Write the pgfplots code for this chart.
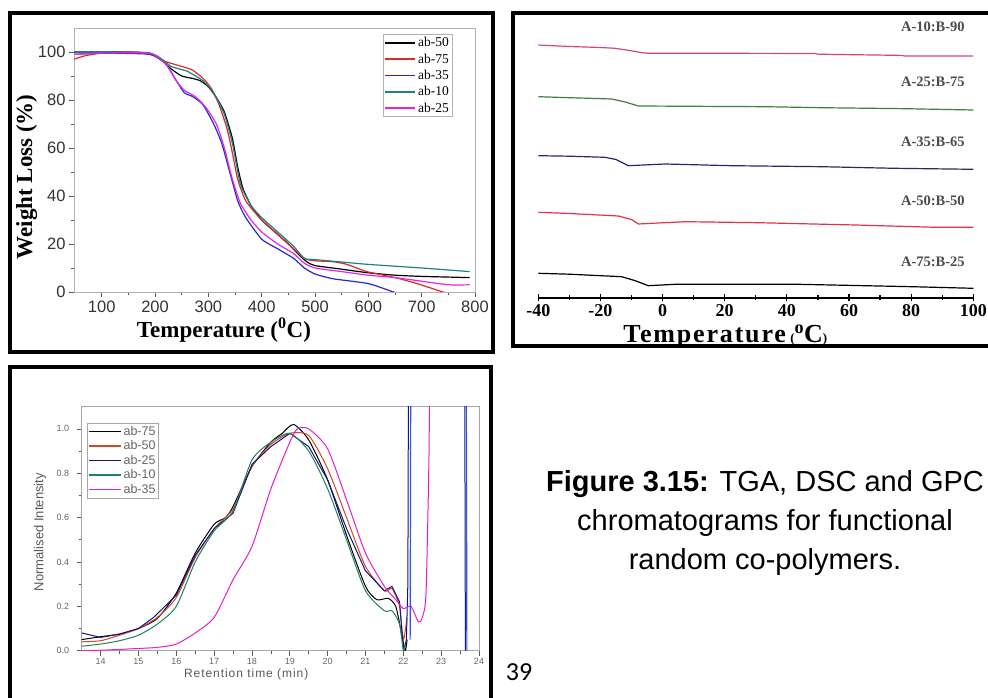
\documentclass[border=0pt]{standalone}
\usepackage{pgfplots}
\pgfplotsset{compat=1.18}
\usepackage{fontspec}
\setmainfont{Liberation Serif}
\setsansfont{Liberation Sans}
\newfontfamily\calibri{Carlito}
\definecolor{tgaR}{RGB}{225,40,40}
\definecolor{tgaB}{RGB}{40,40,210}
\definecolor{tgaT}{RGB}{30,130,130}
\definecolor{tgaM}{RGB}{225,40,225}
\definecolor{dscP}{RGB}{215,70,120}
\definecolor{dscG}{RGB}{60,130,60}
\definecolor{dscN}{RGB}{40,40,110}
\definecolor{dscR}{RGB}{225,50,80}
\definecolor{gpcO}{RGB}{210,70,40}
\definecolor{gpcN}{RGB}{20,20,130}
\definecolor{gpcG}{RGB}{30,130,90}
\definecolor{gpcM}{RGB}{230,30,200}
\definecolor{gpcB}{RGB}{50,80,240}
\begin{document}
\begin{tikzpicture}[x=1pt,y=1pt]
\useasboundingbox (0,0) rectangle (988,697);
\fill[white] (0,0) rectangle (988,697);
% frames
\draw[line width=3.5pt] (10,684) rectangle (493,345);
\draw[line width=3.5pt] (513,684) rectangle (1010,351);
\draw[line width=3.5pt] (10,330) rectangle (491,-20);
% ================= TGA =================
\begin{axis}[
  at={(74pt,405pt)}, anchor=south west, scale only axis,
  width=401pt, height=264pt,
  xmin=48, xmax=800, ymin=0, ymax=110,
  xtick={100,200,...,800}, ytick={0,20,...,100},
  minor x tick num=1, minor y tick num=1,
  tick align=outside, major tick length=5pt, minor tick length=3pt,
  xtick pos=left, ytick pos=left,
  axis line style={gray!60, line width=0.8pt},
  every tick/.style={gray!70!black, line width=0.8pt},
  /pgf/number format/assume math mode=true,
  ticklabel style={font=\fontsize{16.5}{16.5}\sffamily, text=black!80},
  xlabel={\bfseries Temperature (\textsuperscript{0}C)},
  ylabel={\bfseries Weight Loss (\%)},
  xlabel style={font=\fontsize{23}{23}\selectfont, at={(axis description cs:0.374,-0.144)}, anchor=center},
  ylabel style={font=\fontsize{23}{23}\selectfont, at={(axis description cs:-0.118,0.436)}, anchor=center},
  legend style={at={(axis description cs:0.771,0.977)}, anchor=north west,
    font=\fontsize{13.5}{13.5}\selectfont, draw=gray!60, line width=0.6pt,
    inner sep=1pt, row sep=1.5pt, cells={anchor=west}},
  legend image code/.code={\draw[#1, line width=1.6pt] (0pt,0pt) -- (30pt,0pt);},
  every axis plot/.append style={line width=1.2pt, smooth, tension=0.35},
]
\addplot[black] coordinates {(48,100)(100,100)(150,100)(190,99.5)(210,97)(230,93)(250,90)(270,89)(285,88)(300,85.5)(315,81)(330,75)(345,64)(355,52)(365,43)(380,36)(400,30)(425,25)(450,20)(470,15.5)(485,12.5)(500,11)(550,9.5)(600,8)(650,7)(700,6.5)(790,6)};
\addplot[tgaR] coordinates {(48,97)(70,98.5)(100,99.5)(150,100)(190,99.5)(220,96)(250,94)(270,92.5)(290,89)(305,85)(320,78)(335,68)(345,58)(355,47)(370,38)(400,30)(450,20)(480,14)(500,13)(534,12.6)(560,11.5)(597,8.5)(650,6)(690,3.6)(740,0)(760,-1)};
\addplot[tgaB] coordinates {(48,99)(100,99.5)(190,99)(220,95)(240,88)(255,83)(270,81.5)(290,78)(310,70)(325,62)(340,50)(355,38)(370,31)(400,22)(430,18)(460,14)(480,10)(500,7.5)(534,5.5)(600,3.5)(647,0)(660,-1)};
\addplot[tgaT] coordinates {(48,100)(190,99.5)(230,94)(260,92)(290,88)(310,83)(330,74)(345,62)(360,45)(380,36)(400,31)(430,25)(460,19)(480,14)(500,13.5)(550,12.5)(600,11.5)(700,10)(790,8.5)};
\addplot[tgaM] coordinates {(48,99)(100,99.5)(190,99.5)(220,95)(240,88)(255,84)(275,81.5)(295,77)(315,70)(330,60)(345,47)(360,37)(380,30)(400,25)(430,20)(460,16)(480,12)(500,10)(550,8.5)(600,7)(650,6)(700,4.5)(750,3)(790,3)};
\legend{ab-50,ab-75,ab-35,ab-10,ab-25}
\end{axis}
% ================= DSC =================
\begin{axis}[
  at={(538.3pt,399pt)}, anchor=south west, scale only axis,
  width=435pt, height=283pt,
  xmin=-40, xmax=100, ymin=0, ymax=283,
  axis x line*=bottom, hide y axis,
  xtick={-40,-20,...,100}, minor x tick num=1,
  tick align=center, major tick length=7pt, minor tick length=5pt,
  axis line style={black, line width=1.6pt},
  every tick/.style={black, line width=1.2pt},
  /pgf/number format/assume math mode=true,
  xticklabel style={font=\fontsize{18}{18}\selectfont\bfseries, yshift=-2pt, inner sep=1pt},
  xlabel={\addfontfeatures{LetterSpace=7}\bfseries Temperature\,{\fontsize{13}{13}\selectfont(}\textsuperscript{o}C{\fontsize{13}{13}\selectfont)}},
  xlabel style={font=\fontsize{26}{26}\selectfont, at={(axis description cs:0.195,-0.156)}, anchor=base west, inner sep=0pt},
  every axis plot/.append style={line width=1.2pt},
  clip=false,
]
\addplot[dscP] coordinates {(-40,253)(-30,251.5)(-20,250.5)(-15.3,249.7)(-10,247.2)(-7,245.5)(-4.6,244.7)(20,244.7)(49,244.5)(50,243.8)(77,242.6)(78,242)(100,242)};
\addplot[dscG] coordinates {(-40,201.3)(-30,200.3)(-16.4,199)(-12,196)(-7.8,192)(33,191.3)(51,190.3)(78,189.3)(100,188)};
\addplot[dscN] coordinates {(-40,142.3)(-30,141.8)(-18.5,140.7)(-15,138.5)(-11,132.3)(0.8,134)(22.2,132.3)(51,131.3)(74.6,129.7)(100,128.7)};
\addplot[dscR] coordinates {(-40,85.7)(-30,84.5)(-14.2,82)(-10,78.5)(-7.8,74)(-3.5,74.7)(7.3,76.3)(30.9,75.3)(62,73)(87.8,70.7)(100,70.7)};
\addplot[black] coordinates {(-40,24.7)(-30,23.8)(-13.2,21.3)(-9,17.5)(-4.6,12.3)(4,13.7)(43.7,13.7)(80.2,11.3)(100,9.7)};
\begin{scope}[every node/.style={font=\fontsize{14.5}{14.5}\selectfont\bfseries, text=black!70}]
\node at (axis cs:87,271.3) {A-10:B-90};
\node at (axis cs:87,216.3) {A-25:B-75};
\node at (axis cs:87,156.3) {A-35:B-65};
\node at (axis cs:87,97) {A-50:B-50};
\node at (axis cs:87,36.3) {A-75:B-25};
\end{scope}
\end{axis}
% ================= GPC =================
\begin{axis}[
  at={(81.7pt,46.3pt)}, anchor=south west, scale only axis,
  width=397.3pt, height=244pt,
  xmin=13.5, xmax=24, ymin=0, ymax=1.1,
  xtick={14,...,24}, ytick={0,0.2,...,1.0},
  minor x tick num=1, minor y tick num=1,
  tick align=outside, major tick length=5pt, minor tick length=3pt,
  xtick pos=left, ytick pos=left,
  axis line style={gray!70, line width=0.8pt},
  every tick/.style={gray!70!black, line width=0.7pt},
  /pgf/number format/assume math mode=true,
  ticklabel style={font=\fontsize{9}{9}\sffamily, text=black!60},
  xticklabel style={yshift=1pt},
  yticklabel style={xshift=-4pt, /pgf/number format/.cd, fixed, fixed zerofill, precision=1},
  xlabel={\addfontfeatures{LetterSpace=8}Retention time (min)},
  ylabel={Normalised Intensity},
  xlabel style={font=\fontsize{12}{12}\sffamily, text=black!65, at={(axis description cs:0.414,-0.097)}, anchor=center},
  ylabel style={font=\fontsize{13}{13}\sffamily, text=black!65, at={(axis description cs:-0.105,0.486)}, anchor=center},
  legend style={at={(axis description cs:0.013,0.934)}, anchor=north west,
    font=\fontsize{12.5}{12.5}\sffamily, text=black!60, draw=gray!70, line width=0.6pt,
    inner sep=1pt, row sep=0pt, cells={anchor=west}},
  legend image code/.code={\draw[#1, line width=1.4pt] (0pt,0pt) -- (32pt,0pt);},
  every axis plot/.append style={line width=1pt},
]
\addplot[black, smooth, tension=0.4] coordinates {(13.5,0.05)(14,0.063)(14.5,0.075)(15,0.10)(15.5,0.146)(16,0.26)(16.5,0.44)(17,0.57)(17.3,0.60)(17.5,0.65)(18,0.83)(18.5,0.94)(18.8,0.98)(19.1,1.02)(19.5,0.95)(20,0.77)(20.5,0.52)(21,0.29)(21.3,0.23)(21.6,0.236)(21.8,0.20)(21.95,0.08)(22.05,0.0)(22.1,0.05)};
\addplot[gpcO, smooth, tension=0.4] coordinates {(13.5,0.04)(14,0.045)(14.5,0.07)(15,0.10)(15.5,0.15)(16,0.24)(16.5,0.42)(17,0.55)(17.5,0.64)(18,0.83)(18.5,0.93)(19,0.98)(19.5,0.97)(20,0.82)(20.5,0.60)(21,0.38)(21.5,0.27)(21.7,0.28)(21.9,0.20)(22.0,0.05)(22.1,0.15)};
\addplot[gpcN] coordinates {(13.5,0.08)(14,0.06)(14.5,0.075)(15,0.10)(15.4,0.15)(15.7,0.20)(16,0.25)(16.5,0.43)(17,0.55)(17.5,0.62)(18,0.84)(18.5,0.92)(19,0.98)(19.5,0.92)(20,0.77)(20.5,0.55)(21,0.36)(21.5,0.27)(21.7,0.29)(21.9,0.22)(21.98,0.05)(22.02,0.0)(22.08,0.05)(22.12,0.3)(22.14,1.5)(23.62,1.5)(23.64,0.0)};
\addplot[gpcG, smooth, tension=0.4] coordinates {(13.5,0.02)(14,0.03)(14.5,0.045)(15,0.07)(15.5,0.12)(16,0.20)(16.5,0.40)(17,0.54)(17.5,0.63)(18,0.86)(18.5,0.94)(19,0.98)(19.5,0.90)(20,0.73)(20.5,0.50)(21,0.27)(21.5,0.18)(21.7,0.18)(21.9,0.12)(22.0,0.0)(22.05,0.03)};
\addplot[gpcM, smooth, tension=0.4] coordinates {(13.5,0.0)(14,0.002)(15,0.01)(15.5,0.015)(16,0.03)(16.5,0.08)(17,0.15)(17.5,0.32)(18,0.47)(18.5,0.73)(19,0.94)(19.2,1.0)(19.5,1.0)(20,0.91)(20.5,0.68)(21,0.44)(21.5,0.29)(21.8,0.23)(22,0.19)(22.2,0.20)(22.4,0.13)(22.5,0.15)(22.6,0.26)(22.68,0.9)(22.7,1.5)};
\addplot[gpcB, line width=1.2pt, forget plot] coordinates {(22.18,0.05)(22.2,1.5)(23.66,1.5)(23.68,0.0)};
\legend{ab-75,ab-50,ab-25,ab-10,ab-35}
\end{axis}
% caption
\node[align=center, font=\fontsize{29}{39}\selectfont\sffamily] at (765,174) {\textbf{Figure 3.15:} TGA, DSC and GPC\\chromatograms for functional\\random co-polymers.};
\node[font=\fontsize{26}{26}\calibri] at (519,25) {39};
\end{tikzpicture}
\end{document}
